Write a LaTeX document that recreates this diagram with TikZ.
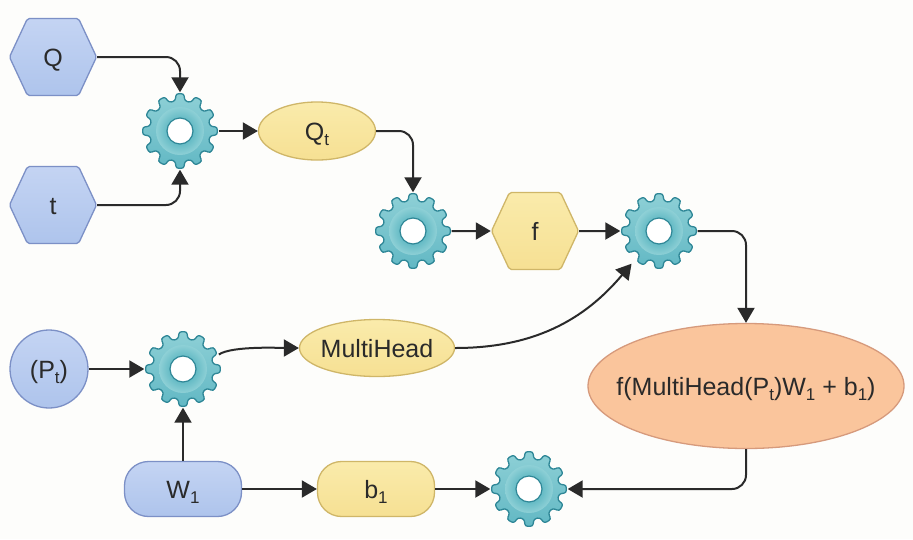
\documentclass[tikz,border=0pt]{standalone}
\usepackage{fontspec}
\setmainfont{Liberation Sans}
\usetikzlibrary{positioning,arrows.meta,shapes.geometric,shapes.symbols}

\definecolor{paper}{HTML}{FDFDFB}
\definecolor{ink}{HTML}{2A2A2A}
\definecolor{blueline}{HTML}{7C90C6}
\definecolor{bluetop}{HTML}{C4D4F3}
\definecolor{bluelow}{HTML}{AEC4EC}
\definecolor{yellowline}{HTML}{CFB668}
\definecolor{yellowtop}{HTML}{FAEBAB}
\definecolor{yellowlow}{HTML}{F6E093}
\definecolor{peach}{HTML}{FAC59C}
\definecolor{peachline}{HTML}{D69A7C}
\definecolor{cogline}{HTML}{2F8797}
\definecolor{coglight}{HTML}{8ED0D6}
\definecolor{cogbody}{HTML}{62B8C4}
\definecolor{cogdeep}{HTML}{35A2B1}

\newcommand{\lowidx}[1]{\raisebox{-5pt}{\fontsize{17}{17}\selectfont #1}}
\newcommand{\cogdrawing}{%
  \begin{scope}[shift={(path picture bounding box.center)}]
    \draw[cogline, line width=1.3pt, top color=coglight, bottom color=cogbody, rounded corners=2.5pt]
      (-9:30.5) -- (-6:37.5) -- (6:37.5) -- (9:30.5)
      \foreach \a in {30,60,...,330} { -- ({\a-9}:30.5) -- ({\a-6}:37.5) -- ({\a+6}:37.5) -- ({\a+9}:30.5) }
      -- cycle;
    \shade[inner color=cogdeep, outer color=coglight] (0,0) circle (24);
    \draw[cogline, line width=1.2pt, fill=white] (0,0) circle (13);
  \end{scope}}

\tikzset{
  every node/.style={text=ink, font=\fontsize{25}{29}\selectfont, text height=18pt, text depth=0pt},
  flow/.style={draw=ink, line width=2pt, -{Triangle[length=15pt,width=17pt]}},
  cog/.style={circle, text height=0pt, minimum size=77pt, inner sep=0pt, path picture={\cogdrawing}},
  hexa/.style={signal, signal to=east and west, signal pointer angle=130, rounded corners=2pt, minimum width=87pt, minimum height=77pt, inner sep=0pt, line width=1.3pt},
  bluefill/.style={draw=blueline, top color=bluetop, bottom color=bluelow},
  yellowfill/.style={draw=yellowline, top color=yellowtop, bottom color=yellowlow},
  oval/.style={ellipse, inner sep=0pt, line width=1.3pt},
  pill/.style={rectangle, rounded corners=24pt, minimum width=117pt, minimum height=55pt, inner sep=0pt, line width=1.3pt},
}

\begin{document}
\begin{tikzpicture}[x=1pt, y=1pt, on grid]
  \fill[paper, use as bounding box] (0,0) rectangle (913,-539);

  \node [hexa, bluefill] (Q) at (53,-57) {Q};
  \node [hexa, bluefill, below=148pt of Q] (t) {t};
  \node [cog, below right=74pt and 127pt of Q] (mix1) {};
  \node [oval, yellowfill, right=137pt of mix1, minimum width=117pt, minimum height=58pt] (Qt) {Q\lowidx{t}};
  \node [cog, below right=100pt and 96pt of Qt] (mix2) {};
  \node [hexa, yellowfill, right=122pt of mix2] (f) {f};
  \node [cog, right=124pt of f] (mix3) {};

  \node [circle, bluefill, line width=1.3pt, minimum size=78pt, inner sep=0pt, below left=164pt and 4pt of t] (Pt) {(P\lowidx{t})};
  \node [cog, right=134pt of Pt] (mix4) {};
  \node [oval, yellowfill, above right=21pt and 194pt of mix4, minimum width=155pt, minimum height=57pt, inner xsep=-10pt] (MH) {MultiHead};
  \node [pill, bluefill, below=120pt of mix4] (W) {W\lowidx{1}};
  \node [pill, yellowfill, right=193pt of W] (b) {b\lowidx{1}};
  \node [cog, right=153pt of b] (mix5) {};
  \node [oval, above right=103pt and 217pt of mix5, draw=peachline, fill=peach, minimum width=316pt, minimum height=125pt, inner xsep=-21pt] (out) {f(MultiHead(P\lowidx{t})W\lowidx{1} + b\lowidx{1})};

  \draw [flow, rounded corners=14pt] (Q) -| (mix1);
  \draw [flow, rounded corners=14pt] (t) -| (mix1);
  \draw [flow] (mix1) -- (Qt);
  \draw [flow, rounded corners=14pt] (Qt) -| (mix2);
  \draw [flow] (mix2) -- (f);
  \draw [flow] (f) -- (mix3);
  \draw [flow, rounded corners=14pt] (mix3) -| (out);
  \draw [flow, rounded corners=14pt] (out) |- (mix5);
  \draw [flow] (Pt) -- (mix4);
  \draw [flow] (mix4.22) to [out=35, in=180, looseness=0.5] (MH);
  \draw [flow, shorten >=4pt] (MH) to [out=0, in=230] (mix3);
  \draw [flow] (W) -- (mix4);
  \draw [flow] (W) -- (b);
  \draw [flow] (b) -- (mix5);
\end{tikzpicture}
\end{document}
